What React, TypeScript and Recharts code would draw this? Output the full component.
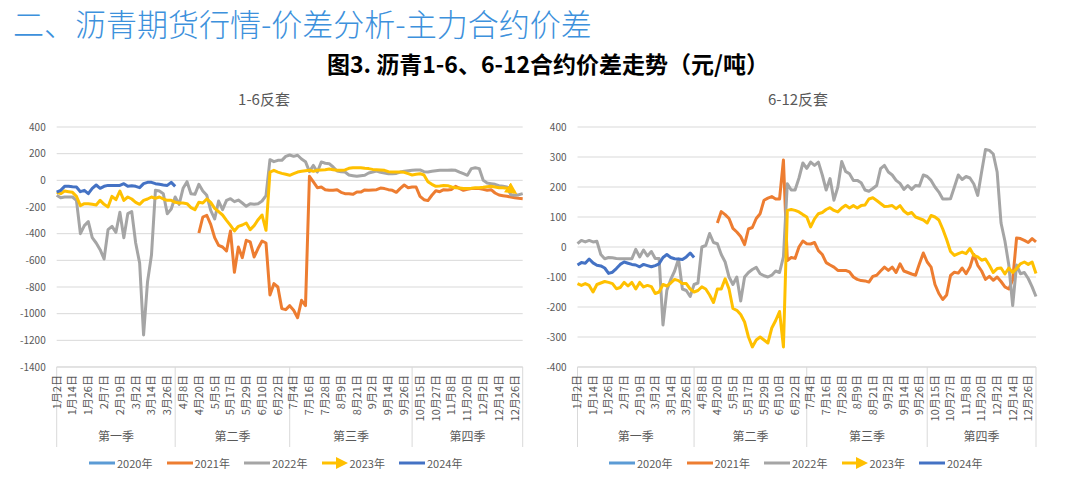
import React from 'react';
import { LineChart, Line, XAxis, YAxis, CartesianGrid } from 'recharts';

const FONT = '"Noto Sans CJK SC", "Noto Sans", sans-serif';
const TEXT = '#595959';
const GRID = '#d9d9d9';

// x axis: one point per slot, a date label on every 4th slot
const DATE_TICKS = [
  '1月2日', '1月14日', '1月26日', '2月7日', '2月19日', '3月2日', '3月14日', '3月26日',
  '4月8日', '4月20日', '5月5日', '5月17日', '5月29日', '6月10日', '6月22日',
  '7月4日', '7月16日', '7月28日', '8月9日', '8月21日', '9月2日', '9月14日', '9月26日',
  '10月15日', '10月27日', '11月8日', '11月20日', '12月2日', '12月14日', '12月26日',
];
const LABEL_STEP = 4;
const LAST_IDX = 118;
const QUARTERS = ['第一季', '第二季', '第三季', '第四季'];
const QUARTER_BOUNDS = [0, 30, 59, 90, 118];

const YEARS = ['2020年', '2021年', '2022年', '2023年', '2024年'];
const COLORS = ['#5B9BD5', '#ED7D31', '#A5A5A5', '#FFC000', '#4472C4'];

// 1-6 spread
const L2021_FROM = 36;
const L2021 = [
  -395, -275, -262, -330,
  -430, -488, -500, -530, -380, -690, -500, -580, -450, -462,
  -575, -510, -455, -470, -860, -775, -800, -962, -970, -940,
  -975, -1030, -900, -940, 30, -12, -55, -50, -70, -75,
  -75, -70, -90, -100, -100, -105, -88, -88, -72, -75,
  -72, -70, -58, -62, -70, -75, -90, -60, -35, -55,
  -50, -50, -120, -145, -152, -112, -78, -85, -70, -72,
  -68, -45, -60, -75, -68, -62, -62, -62, -68, -75,
  -70, -95, -110, -115, -120, -125, -130, -135, -138,
];
const L2022 = [
  -112, -130, -125, -125, -125, -150, -400, -340, -310, -430,
  -470, -520, -590, -370, -345, -390, -240, -430, -250, -235,
  -470, -620, -1160, -760, -560, -75, -80, -100, -250, -215,
  -125, -180, -60, -10, -100, -105, -30, -80, -112, -225,
  -290, -155, -220, -150, -138, -160, -148, -170, -195, -175,
  -180, -175, -155, -115, 155, 140, 150, 150, 180, 190,
  180, 188, 160, 140, 65, 112, 62, 138, 128, 125,
  100, 70, 65, 62, 40, 35, 30, 35, 38, 55,
  62, 70, 60, 55, 50, 50, 52, 62, 68, 72,
  75, 78, 78, 65, 62, 68, 72, 75, 75, 75,
  78, 75, 62, 50, 38, 88, 95, 88, 0, -20,
  -25, -30, -40, -45, -50, -108, -112, -108, -100,
];
const L2023 = [
  -88, -100, -80, -85, -90, -120, -190, -175, -175, -180,
  -185, -150, -180, -200, -120, -145, -80, -150, -125, -140,
  -165, -180, -150, -140, -125, -135, -125, -140, -150, -150,
  -165, -170, -170, -175, -205, -220, -165, -170, -140, -165,
  -210, -235, -260, -300, -338, -380, -345, -335, -320, -370,
  -340, -295, -260, -375, 62, 75, 62, 52, 45, 38,
  50, 62, 68, 72, 75, 68, 75, 78, 80, 85,
  80, 75, 75, 78, 90, 95, 95, 95, 90, 88,
  82, 80, 78, 75, 65, 62, 62, 62, 60, 50,
  40, 45, 50, 40, -10, -30, -45, -42, -38, -40,
  -50, -55, -58, -62, -62, -60, -55, -55, -52, -48,
  -45, -50, -55, -55, -60, -70, -90,
];
const L2024 = [
  -88, -75, -45, -45, -48, -50, -85, -75, -100, -60,
  -35, -60, -45, -38, -38, -38, -38, -25, -45, -40,
  -45, -55, -25, -15, -15, -25, -30, -35, -38, -15, -45,
];

// 6-12 spread
const R2021_FROM = 36;
const R2021 = [
  80, 118, 108, 95,
  62, 50, 35, 8, 60, 65, 95, 111, 156, 163,
  168, 160, 160, 290, -45, -35, -38, 0, 20, 11,
  10, 15, -12, -25, -52, -60, -67, -78, -78, -78,
  -83, -100, -108, -112, -113, -117, -98, -94, -80, -67,
  -78, -67, -85, -56, -80, -85, -90, -94, -56, -20,
  -50, -67, -125, -155, -175, -160, -95, -84, -87, -70,
  -89, -67, -25, -61, -80, -108, -98, -111, -100, -115,
  -133, -140, -110, 30, 28, 22, 15, 28, 17,
];
const R2022 = [
  11, 22, 17, 22, 17, 19, -25, -39, -35, -36,
  -38, -39, -39, -39, -39, -8, -33, -10, -30, -15,
  -38, -38, -260, -144, -108, -80, -40, -140, -145, -165,
  -125, -120, 0, 5, 45, 15, 11, -25, -50, -100,
  -125, -100, -180, -100, -85, -75, -68, -89, -96, -100,
  -94, -80, -85, -33, 211, 190, 190, 230, 280, 262,
  283, 272, 283, 240, 190, 228, 156, 200, 285, 252,
  244, 222, 222, 214, 190, 186, 195, 205, 261, 272,
  250, 240, 222, 212, 192, 205, 192, 205, 203, 240,
  235, 222, 200, 183, 160, 160, 161, 200, 240, 225,
  235, 230, 210, 172, 250, 325, 322, 310, 250, 80,
  20, -60, -195, -60, -89, -85, -105, -133, -165,
];
const R2023 = [
  -122, -128, -122, -128, -150, -125, -120, -115, -118, -122,
  -139, -135, -118, -130, -118, -140, -118, -133, -128, -132,
  -155, -150, -125, -130, -120, -108, -112, -122, -122, -140,
  -150, -145, -133, -140, -160, -185, -140, -140, -106, -140,
  -205, -211, -225, -250, -300, -333, -310, -300, -310, -320,
  -270, -245, -215, -333, 122, 125, 122, 117, 108, 100,
  67, 94, 111, 115, 125, 131, 122, 117, 130, 139,
  130, 138, 130, 138, 140, 160, 164, 155, 145, 135,
  136, 138, 128, 138, 120, 110, 115, 100, 95, 90,
  80, 105, 100, 90, 60, 25, -15, -28, -22, -17,
  -22, -5, -28, -33, -44, -40, -61, -85, -72, -70,
  -90, -70, -85, -72, -56, -50, -58, -50, -88,
];
const R2024 = [
  -60, -52, -54, -40, -53, -61, -63, -70, -88, -84,
  -72, -58, -50, -54, -58, -60, -66, -58, -62, -66,
  -62, -56, -35, -25, -35, -39, -40, -42, -33, -20, -35,
];

const L_TICKS = [-1400, -1200, -1000, -800, -600, -400, -200, 0, 200, 400];
const R_TICKS = [-400, -300, -200, -100, 0, 100, 200, 300, 400];

type Series = { key: string; from: number; values: number[] };

function buildRows(series: Series[]) {
  const rows: Record<string, number | null>[] = [];
  for (let i = 0; i <= LAST_IDX; i++) {
    const row: Record<string, number | null> = { idx: i };
    for (const s of series) {
      const v = s.values[i - s.from];
      row[s.key] = v === undefined ? null : v;
    }
    rows.push(row);
  }
  return rows;
}

const leftRows = buildRows([
  { key: '2021年', from: L2021_FROM, values: L2021 },
  { key: '2022年', from: 0, values: L2022 },
  { key: '2023年', from: 0, values: L2023 },
  { key: '2024年', from: 0, values: L2024 },
]);
const rightRows = buildRows([
  { key: '2021年', from: R2021_FROM, values: R2021 },
  { key: '2022年', from: 0, values: R2022 },
  { key: '2023年', from: 0, values: R2023 },
  { key: '2024年', from: 0, values: R2024 },
]);

const labelIdx = DATE_TICKS.map((_, k) => k * LABEL_STEP);
const MAIN_TICKS = Array.from(new Set([...labelIdx, ...QUARTER_BOUNDS])).sort((a, b) => a - b);
const QUARTER_CENTERS = QUARTERS.map((_, k) => (QUARTER_BOUNDS[k] + QUARTER_BOUNDS[k + 1]) / 2);

// date labels (vertical) plus the quarter separator lines of the two-level axis
function DateTick(props: any) {
  const { x, y, payload } = props;
  const v = payload.value as number;
  const label = v % LABEL_STEP === 0 ? DATE_TICKS[v / LABEL_STEP] : undefined;
  const isBound = QUARTER_BOUNDS.includes(v);
  const ty = y + 8;
  return (
    <g>
      {isBound && <line x1={x} x2={x} y1={y} y2={y + 80} stroke={GRID} strokeWidth={1} />}
      {label && (
        <text
          x={x}
          y={ty}
          dy="0.35em"
          textAnchor="end"
          transform={`rotate(-90 ${x} ${ty})`}
          fontSize={11}
          fill={TEXT}
          fontFamily={FONT}
        >
          {label}
        </text>
      )}
    </g>
  );
}

interface PanelProps {
  rows: Record<string, number | null>[];
  width: number;
  yDomain: [number, number];
  yTicks: number[];
  yWidth: number;
  marginLeft: number;
  marginRight: number;
  arrow?: boolean;
}

function SpreadPanel({ rows, width, yDomain, yTicks, yWidth, marginLeft, marginRight, arrow }: PanelProps) {
  return (
    <LineChart
      width={width}
      height={485}
      data={rows}
      margin={{ top: 127, right: marginRight, bottom: 26, left: marginLeft }}
    >
      <CartesianGrid vertical={false} stroke={GRID} strokeWidth={1} />
      <XAxis
        type="number"
        dataKey="idx"
        domain={[0, LAST_IDX]}
        ticks={MAIN_TICKS}
        interval={0}
        tick={DateTick}
        tickLine={false}
        tickSize={0}
        tickMargin={0}
        axisLine={{ stroke: GRID }}
        height={62}
      />
      <XAxis
        xAxisId="q"
        type="number"
        dataKey="idx"
        domain={[0, LAST_IDX]}
        ticks={QUARTER_CENTERS}
        interval={0}
        tickFormatter={(v: number) => QUARTERS[QUARTER_CENTERS.indexOf(v)] ?? ''}
        tick={{ fontSize: 12, fill: TEXT, fontFamily: FONT }}
        tickLine={false}
        tickSize={0}
        tickMargin={3}
        axisLine={false}
        height={30}
      />
      <YAxis
        type="number"
        domain={yDomain}
        ticks={yTicks}
        interval={0}
        width={yWidth}
        axisLine={false}
        tickLine={false}
        tickSize={0}
        tickMargin={11}
        tick={{ fontSize: 10, fill: TEXT, fontFamily: FONT }}
      />
      {YEARS.slice(1).map((y, k) => (
        <Line
          key={y}
          dataKey={y}
          type="linear"
          stroke={COLORS[k + 1]}
          strokeWidth={3}
          strokeLinejoin="round"
          dot={false}
          activeDot={false}
          connectNulls={false}
          isAnimationActive={false}
          markerEnd={arrow && y === '2023年' ? 'url(#arrow2023)' : undefined}
        />
      ))}
    </LineChart>
  );
}

function YearLegend({ left }: { left: number }) {
  return (
    <div style={{ position: 'absolute', left, top: 455, height: 16, display: 'flex' }}>
      {YEARS.map((y, k) => (
        <div key={y} style={{ width: 77.5, height: 16, display: 'flex', alignItems: 'center' }}>
          <svg width={26} height={16}>
            {k === 3 ? (
              <g>
                <line x1={0} x2={16} y1={8} y2={8} stroke={COLORS[k]} strokeWidth={3} />
                <polygon points="14,2 26,8 14,14" fill={COLORS[k]} />
              </g>
            ) : (
              <line x1={0} x2={26} y1={8} y2={8} stroke={COLORS[k]} strokeWidth={3} />
            )}
          </svg>
          <span style={{ marginLeft: 2, fontSize: 11, color: TEXT, fontFamily: FONT, whiteSpace: 'nowrap' }}>{y}</span>
        </div>
      ))}
    </div>
  );
}

export default function App() {
  return (
    <div style={{ position: 'absolute', left: 0, top: 0, width: 1071, height: 485, background: '#fff', overflow: 'hidden' }}>
      <svg width={0} height={0} style={{ position: 'absolute' }}>
        <defs>
          <marker
            id="arrow2023"
            viewBox="0 0 12 12"
            markerWidth={12}
            markerHeight={12}
            refX={9}
            refY={6}
            orient="auto"
            markerUnits="userSpaceOnUse"
          >
            <path d="M0,0 L12,6 L0,12 Z" fill={COLORS[3]} />
          </marker>
        </defs>
      </svg>

      <div
        style={{
          position: 'absolute', left: 13, top: 0, fontSize: 31, lineHeight: '46px', fontWeight: 300,
          color: '#3D91DC', fontFamily: FONT, whiteSpace: 'nowrap',
        }}
      >
        二、沥青期货行情-价差分析-主力合约价差
      </div>
      <div
        style={{
          position: 'absolute', left: 548, top: 52, transform: 'translateX(-50%)', fontSize: 23,
          lineHeight: '23px', fontWeight: 700, color: '#000', fontFamily: FONT, whiteSpace: 'nowrap',
        }}
      >
        图3. 沥青1-6、6-12合约价差走势（元/吨）
      </div>

      <div style={{ position: 'absolute', left: 264, top: 91, transform: 'translateX(-50%)', fontSize: 15, lineHeight: '16px', color: TEXT, fontFamily: FONT, whiteSpace: 'nowrap' }}>
        1-6反套
      </div>
      <div style={{ position: 'absolute', left: 798, top: 91, transform: 'translateX(-50%)', fontSize: 15, lineHeight: '16px', color: TEXT, fontFamily: FONT, whiteSpace: 'nowrap' }}>
        6-12反套
      </div>

      <div style={{ position: 'absolute', left: 0, top: 0 }}>
        <SpreadPanel
          rows={leftRows}
          width={540}
          yDomain={[-1400, 400]}
          yTicks={L_TICKS}
          yWidth={50}
          marginLeft={6.7}
          marginRight={17.3}
          arrow
        />
      </div>
      <div style={{ position: 'absolute', left: 530, top: 0 }}>
        <SpreadPanel
          rows={rightRows}
          width={530}
          yDomain={[-400, 400]}
          yTicks={R_TICKS}
          yWidth={40}
          marginLeft={7.5}
          marginRight={24}
        />
      </div>

      <YearLegend left={89} />
      <YearLegend left={609} />
    </div>
  );
}
